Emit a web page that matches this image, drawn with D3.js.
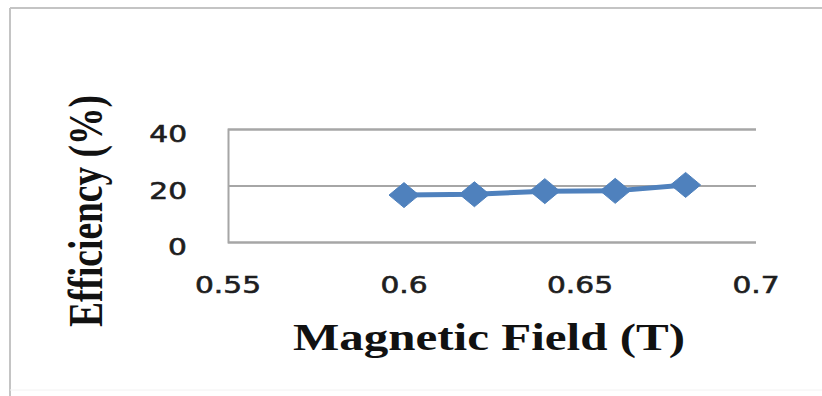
<!DOCTYPE html>
<html>
<head>
<meta charset="utf-8">
<script src="https://cdn.jsdelivr.net/npm/d3@7"></script>
<style>
  html, body { margin: 0; padding: 0; background: #fff; }
  svg { display: block; }
</style>
</head>
<body>
<svg id="chart" width="822" height="396"></svg>
<script>
// Efficiency versus magnetic field
const fieldT = [0.60, 0.62, 0.64, 0.66, 0.68];
const efficiencyPct = [16.6, 16.9, 18.0, 18.1, 20.2];
const xTicks = [0.55, 0.60, 0.65, 0.70];
const yTicks = [0, 20, 40];
const xTickLabels = ["0.55", "0.6", "0.65", "0.7"];
const yTickLabels = ["0", "20", "40"];

const svg = d3.select("#chart");
const W = 822, H = 396;
const plot = { left: 228, right: 756, top: 129, bottom: 242 };
const stretch = 1.29;           // wide lettering
const blue = "#4f81bd";
const gridGray = "#a6a6a6";

// frame
svg.append("line").attr("x1", 10).attr("y1", 8).attr("x2", W + 5).attr("y2", 8)
  .attr("stroke", "#c4c4c4").attr("stroke-width", 2);
svg.append("line").attr("x1", 10).attr("y1", 8).attr("x2", 10).attr("y2", H)
  .attr("stroke", "#c4c4c4").attr("stroke-width", 2);
svg.append("line").attr("x1", 10).attr("y1", 390).attr("x2", W).attr("y2", 390)
  .attr("stroke", "#f2f2f2").attr("stroke-width", 1);

const x = d3.scaleLinear().domain([0.55, 0.70]).range([plot.left, plot.right]);
const y = d3.scaleLinear().domain([0, 40]).range([plot.bottom, plot.top]);

// horizontal gridlines (the 0 line doubles as the x axis)
const gridAxis = d3.axisLeft(y).tickValues(yTicks)
  .tickSize(-(plot.right - plot.left)).tickFormat("");
const gridG = svg.append("g").attr("transform", `translate(${plot.left},0)`).call(gridAxis);
gridG.select(".domain").attr("stroke", gridGray).attr("stroke-width", 2);
gridG.selectAll(".tick line").attr("stroke", gridGray).attr("stroke-width", 2);

// y tick labels
svg.append("g").selectAll("text").data(yTicks).join("text")
  .attr("transform", d => `translate(187,${y(d) + 13}) scale(${stretch},1)`)
  .attr("text-anchor", "end")
  .attr("font-family", "DejaVu Sans, Verdana, sans-serif")
  .attr("font-size", 23)
  .attr("fill", "#1e1e1e")
  .attr("stroke", "#1e1e1e")
  .attr("stroke-width", 0.6)
  .text((d, i) => yTickLabels[i]);

// x tick labels
svg.append("g").selectAll("text").data(xTicks).join("text")
  .attr("transform", d => `translate(${x(d)},293) scale(${stretch},1)`)
  .attr("text-anchor", "middle")
  .attr("font-family", "DejaVu Sans, Verdana, sans-serif")
  .attr("font-size", 23)
  .attr("fill", "#1e1e1e")
  .attr("stroke", "#1e1e1e")
  .attr("stroke-width", 0.6)
  .text((d, i) => xTickLabels[i]);

// series line
const pts = fieldT.map((f, i) => [f, efficiencyPct[i]]);
svg.append("path")
  .datum(pts)
  .attr("fill", "none")
  .attr("stroke", blue)
  .attr("stroke-width", 5)
  .attr("stroke-linejoin", "round")
  .attr("d", d3.line().x(d => x(d[0])).y(d => y(d[1])));

// diamond markers
svg.append("g").selectAll("path").data(pts).join("path")
  .attr("transform", d => `translate(${x(d[0])},${y(d[1])})`)
  .attr("d", "M0,-12.5 L15,0 L0,12.5 L-15,0 Z")
  .attr("fill", blue)
  .attr("stroke", blue)
  .attr("stroke-width", 1)
  .attr("stroke-linejoin", "round");

// axis titles
svg.append("text")
  .attr("transform", `translate(489,350) scale(${stretch},1)`)
  .attr("text-anchor", "middle")
  .attr("font-family", "Liberation Serif, Times New Roman, serif")
  .attr("font-weight", "bold")
  .attr("font-size", 38)
  .attr("fill", "#111")
  .text("Magnetic Field (T)");

svg.append("text")
  .attr("transform", `translate(102,211) scale(${stretch},1) rotate(-90)`)
  .attr("text-anchor", "middle")
  .attr("font-family", "Liberation Serif, Times New Roman, serif")
  .attr("font-weight", "bold")
  .attr("font-size", 37.5)
  .attr("fill", "#111")
  .text("Efficiency (%)");
</script>
</body>
</html>
